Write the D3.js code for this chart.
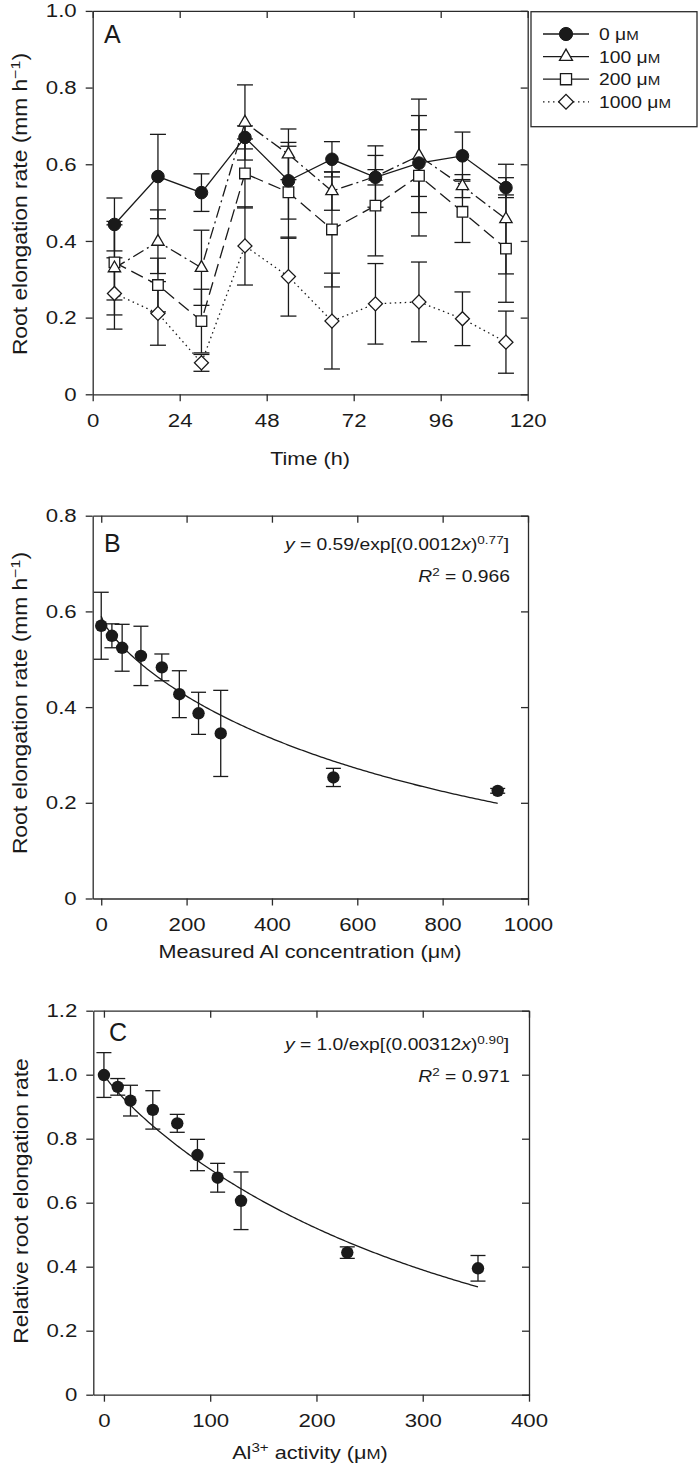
<!DOCTYPE html>
<html>
<head>
<meta charset="utf-8">
<script src="https://cdn.jsdelivr.net/npm/d3@7/dist/d3.min.js"></script>
<style>
  html, body { margin: 0; padding: 0; background: #fff; }
  svg { display: block; }
</style>
</head>
<body>
<svg id="chart" width="698" height="1466"></svg>
<script>
// ---------------- DATA ----------------
// Panel A: root elongation rate over time at four Al levels
const timeH = [6, 18, 30, 42, 54, 66, 78, 90, 102, 114];
const concLabels = ["0", "100", "200", "1000"];
const rate0    = [0.443, 0.568, 0.526, 0.670, 0.557, 0.613, 0.566, 0.603, 0.622, 0.539];
const err0     = [0.069, 0.110, 0.049, 0.030, 0.100, 0.046, 0.020, 0.087, 0.062, 0.026];
const rate100  = [0.329, 0.398, 0.330, 0.709, 0.626, 0.530, 0.568, 0.622, 0.543, 0.457];
const err100   = [0.122, 0.083, 0.098, 0.098, 0.066, 0.050, 0.080, 0.148, 0.030, 0.143];
const rate200  = [0.344, 0.285, 0.191, 0.576, 0.527, 0.430, 0.492, 0.570, 0.476, 0.380];
const err200   = [0.098, 0.070, 0.083, 0.090, 0.120, 0.150, 0.131, 0.157, 0.080, 0.140];
const rate1000 = [0.263, 0.211, 0.082, 0.387, 0.307, 0.191, 0.236, 0.241, 0.197, 0.136];
const err1000  = [0.093, 0.083, 0.022, 0.102, 0.103, 0.125, 0.105, 0.104, 0.070, 0.081];

// Panel B: rate vs measured Al concentration
const alConc = [0, 25, 49, 93, 142, 183, 228, 280, 544, 929];
const rateB  = [0.570, 0.549, 0.524, 0.507, 0.483, 0.427, 0.387, 0.345, 0.253, 0.225];
const errB   = [0.070, 0.025, 0.049, 0.062, 0.028, 0.049, 0.044, 0.090, 0.019, 0.005];
const fitB   = [0.59, 0.0012, 0.77];   // y = a / exp[(k x)^n]
const fitBMaxX = 929;

// Panel C: relative rate vs Al3+ activity
const al3Act = [0, 13, 25, 46, 69, 88, 107, 129, 229, 352];
const relRate = [0.999, 0.962, 0.919, 0.890, 0.848, 0.749, 0.678, 0.606, 0.444, 0.395];
const errC    = [0.070, 0.026, 0.048, 0.060, 0.028, 0.049, 0.045, 0.090, 0.018, 0.040];
const fitC    = [1.0, 0.00312, 0.90];
const fitCMaxX = 352;

// Tick values
const ticksAx = [0, 24, 48, 72, 96, 120];
const ticksAy = [0, 0.2, 0.4, 0.6, 0.8, 1.0];
const ticksBx = [0, 200, 400, 600, 800, 1000];
const ticksBy = [0, 0.2, 0.4, 0.6, 0.8];
const ticksCx = [0, 100, 200, 300, 400];
const ticksCy = [0, 0.2, 0.4, 0.6, 0.8, 1.0, 1.2];

// ---------------- STYLE ----------------
const FONT = "'Liberation Sans', Arial, Helvetica, sans-serif";
const SX = 1.17;          // horizontal glyph stretch
const INK = "#1a1a1a";
const AXIS = "#2b2b2b";

const svg = d3.select("#chart");

const yFmt = d => d === 0 ? "0" : d3.format(".1f")(d);
const xFmt = d => String(d);

function axes(g, x, y, xt, yt) {
  const [x0, x1] = x.range();
  const [y0, y1] = y.range();
  const b = g.append("g").attr("transform", `translate(0,${y0})`)
    .call(d3.axisBottom(x).tickValues(xt).tickSizeInner(7).tickSizeOuter(0).tickPadding(12).tickFormat(xFmt));
  g.append("g").attr("transform", `translate(0,${y1})`)
    .call(d3.axisTop(x).tickValues(xt).tickSizeInner(-7).tickSizeOuter(0).tickFormat(""));
  const l = g.append("g").attr("transform", `translate(${x0},0)`)
    .call(d3.axisLeft(y).tickValues(yt).tickSizeInner(7).tickSizeOuter(0).tickPadding(9).tickFormat(yFmt));
  g.append("g").attr("transform", `translate(${x1},0)`)
    .call(d3.axisRight(y).tickValues(yt).tickSizeInner(-7).tickSizeOuter(0).tickFormat(""));
  g.selectAll(".domain").attr("stroke", AXIS).attr("stroke-width", 1.3);
  g.selectAll(".tick line").attr("stroke", AXIS).attr("stroke-width", 1.3);
  g.selectAll(".tick text").attr("font-family", FONT).attr("font-size", 19).attr("fill", INK);
  b.selectAll(".tick text").attr("transform", `scale(${SX},1)`);
  l.selectAll(".tick text").each(function () {
    const t = d3.select(this);
    t.attr("x", +t.attr("x") / SX).attr("transform", `scale(${SX},1)`);
  });
}

function textAt(parent, x, y, size, anchor, rot) {
  return parent.append("text")
    .attr("transform", `translate(${x},${y})` + (rot ? ` rotate(${rot})` : "") + ` scale(${SX},1)`)
    .attr("font-family", FONT).attr("font-size", size).attr("fill", INK)
    .attr("text-anchor", anchor);
}

function umTail(t) {
  t.append("tspan").text("μ");
  t.append("tspan").attr("font-size", "0.78em").text("M");
}

function errorBars(g, xs, ys, es, x, y, cap) {
  const grp = g.append("g").attr("stroke", INK).attr("stroke-width", 1.3).attr("fill", "none");
  xs.forEach((xv, i) => {
    const cx = x(xv), yt = y(ys[i] + es[i]), yb = y(ys[i] - es[i]);
    grp.append("line").attr("x1", cx).attr("x2", cx).attr("y1", yt).attr("y2", yb);
    grp.append("line").attr("x1", cx - cap).attr("x2", cx + cap).attr("y1", yt).attr("y2", yt);
    grp.append("line").attr("x1", cx - cap).attr("x2", cx + cap).attr("y1", yb).attr("y2", yb);
  });
}

// ---------------- PANEL A ----------------
const xA = d3.scaleLinear().domain([0, 120]).range([92.7, 527.7]);
const yA = d3.scaleLinear().domain([0, 1]).range([394.3, 10.9]);
const gA = svg.append("g");

const seriesA = [
  { conc: concLabels[3], v: rate1000, e: err1000, dash: "1.5,3.5", sym: "diamond" },
  { conc: concLabels[2], v: rate200, e: err200, dash: "13,6", sym: "square" },
  { conc: concLabels[1], v: rate100, e: err100, dash: "12,4,2,4", sym: "triangle" },
  { conc: concLabels[0], v: rate0, e: err0, dash: null, sym: "circle" }
];

function marker(sel, sym, scale) {
  const s = scale || 1;
  if (sym === "circle") {
    sel.append("circle").attr("r", 6.3 * s).attr("fill", INK).attr("stroke", INK).attr("stroke-width", 1);
  } else if (sym === "triangle") {
    sel.append("path").attr("d", d3.symbol(d3.symbolTriangle, 66 * s * s)())
      .attr("fill", "#fff").attr("stroke", INK).attr("stroke-width", 1.3);
  } else if (sym === "square") {
    sel.append("path").attr("d", d3.symbol(d3.symbolSquare, 112 * s * s)())
      .attr("fill", "#fff").attr("stroke", INK).attr("stroke-width", 1.3);
  } else {
    sel.append("path").attr("d", d3.symbol(d3.symbolSquare, 98 * s * s)())
      .attr("transform", "rotate(45)")
      .attr("fill", "#fff").attr("stroke", INK).attr("stroke-width", 1.3);
  }
}

seriesA.forEach(s => errorBars(gA, timeH, s.v, s.e, xA, yA, 8));
const lineA = d3.line().x((d, i) => xA(timeH[i])).y(d => yA(d));
seriesA.forEach(s => {
  gA.append("path").attr("d", lineA(s.v)).attr("fill", "none").attr("stroke", INK)
    .attr("stroke-width", 1.3).attr("stroke-dasharray", s.dash);
});
seriesA.forEach(s => {
  s.v.forEach((v, i) => {
    const m = gA.append("g").attr("transform", `translate(${xA(timeH[i])},${yA(v)})`);
    marker(m, s.sym);
  });
});
axes(gA, xA, yA, ticksAx, ticksAy);

gA.append("text").attr("x", 104).attr("y", 43).attr("font-family", FONT)
  .attr("font-size", 25).attr("fill", INK).text("A");

textAt(gA, 310, 465, 18.5, "middle").text("Time (h)");
{
  const t = textAt(gA, 27, 204, 19.5, "middle", -90);
  t.append("tspan").text("Root elongation rate (mm h");
  t.append("tspan").attr("dy", -7).attr("font-size", "0.7em").text("−1");
  t.append("tspan").attr("dy", 7).text(")");
}

// Legend
const legG = svg.append("g");
legG.append("rect").attr("x", 531).attr("y", 11.7).attr("width", 166).attr("height", 115)
  .attr("fill", "#fff").attr("stroke", AXIS).attr("stroke-width", 1.3);
const legOrder = [
  { conc: concLabels[0], sym: "circle", dash: null },
  { conc: concLabels[1], sym: "triangle", dash: null },
  { conc: concLabels[2], sym: "square", dash: null },
  { conc: concLabels[3], sym: "diamond", dash: "1.5,3.5" }
];
legOrder.forEach((d, i) => {
  const yy = 34 + i * 22.6;
  legG.append("line").attr("x1", 543).attr("x2", 589).attr("y1", yy).attr("y2", yy)
    .attr("stroke", INK).attr("stroke-width", 1.3).attr("stroke-dasharray", d.dash);
  const m = legG.append("g").attr("transform", `translate(566,${yy})`);
  marker(m, d.sym, 1.05);
  const t = textAt(legG, 599, yy + 6, 16.5, "start");
  t.append("tspan").text(d.conc + " ");
  umTail(t);
});

// ---------------- PANEL B ----------------
const xB = d3.scaleLinear().domain([-20, 1000]).range([92.7, 528]);
const yB = d3.scaleLinear().domain([0, 0.8]).range([898.5, 515.7]);
const gB = svg.append("g");

const fitPtsB = d3.range(0, fitBMaxX + 0.01, fitBMaxX / 200);
gB.append("path")
  .attr("d", d3.line().x(d => xB(d)).y(d => yB(fitB[0] / Math.exp(Math.pow(fitB[1] * d, fitB[2]))))(fitPtsB))
  .attr("fill", "none").attr("stroke", INK).attr("stroke-width", 1.3);
errorBars(gB, alConc, rateB, errB, xB, yB, 7.5);
gB.selectAll("circle.pt").data(alConc).enter().append("circle")
  .attr("cx", d => xB(d)).attr("cy", (d, i) => yB(rateB[i])).attr("r", 6.2).attr("fill", INK);
axes(gB, xB, yB, ticksBx, ticksBy);

gB.append("text").attr("x", 104).attr("y", 552).attr("font-family", FONT)
  .attr("font-size", 25).attr("fill", INK).text("B");
{
  const t = textAt(gB, 509, 550, 16.5, "end");
  t.append("tspan").attr("font-style", "italic").text("y");
  t.append("tspan").text(" = 0.59/exp[(0.0012");
  t.append("tspan").attr("font-style", "italic").text("x");
  t.append("tspan").text(")");
  t.append("tspan").attr("dy", -6).attr("font-size", "0.7em").text("0.77");
  t.append("tspan").attr("dy", 6).text("]");
  const r = textAt(gB, 510, 582, 16.5, "end");
  r.append("tspan").attr("font-style", "italic").text("R");
  r.append("tspan").attr("dy", -6).attr("font-size", "0.7em").text("2");
  r.append("tspan").attr("dy", 6).text(" = 0.966");
}
{
  const t = textAt(gB, 310, 958, 18.5, "middle");
  t.append("tspan").text("Measured Al concentration (");
  umTail(t);
  t.append("tspan").text(")");
}
{
  const t = textAt(gB, 27, 703, 19.5, "middle", -90);
  t.append("tspan").text("Root elongation rate (mm h");
  t.append("tspan").attr("dy", -7).attr("font-size", "0.7em").text("−1");
  t.append("tspan").attr("dy", 7).text(")");
}

// ---------------- PANEL C ----------------
const xC = d3.scaleLinear().domain([-10, 400]).range([93.3, 529]);
const yC = d3.scaleLinear().domain([0, 1.2]).range([1394.7, 1010.7]);
const gC = svg.append("g");

const fitPtsC = d3.range(0, fitCMaxX + 0.01, fitCMaxX / 200);
gC.append("path")
  .attr("d", d3.line().x(d => xC(d)).y(d => yC(fitC[0] / Math.exp(Math.pow(fitC[1] * d, fitC[2]))))(fitPtsC))
  .attr("fill", "none").attr("stroke", INK).attr("stroke-width", 1.3);
errorBars(gC, al3Act, relRate, errC, xC, yC, 7.5);
gC.selectAll("circle.pt").data(al3Act).enter().append("circle")
  .attr("cx", d => xC(d)).attr("cy", (d, i) => yC(relRate[i])).attr("r", 6.2).attr("fill", INK);
axes(gC, xC, yC, ticksCx, ticksCy);

gC.append("text").attr("x", 109).attr("y", 1041).attr("font-family", FONT)
  .attr("font-size", 25).attr("fill", INK).text("C");
{
  const t = textAt(gC, 509, 1050, 16.5, "end");
  t.append("tspan").attr("font-style", "italic").text("y");
  t.append("tspan").text(" = 1.0/exp[(0.00312");
  t.append("tspan").attr("font-style", "italic").text("x");
  t.append("tspan").text(")");
  t.append("tspan").attr("dy", -6).attr("font-size", "0.7em").text("0.90");
  t.append("tspan").attr("dy", 6).text("]");
  const r = textAt(gC, 510, 1082, 16.5, "end");
  r.append("tspan").attr("font-style", "italic").text("R");
  r.append("tspan").attr("dy", -6).attr("font-size", "0.7em").text("2");
  r.append("tspan").attr("dy", 6).text(" = 0.971");
}
{
  const t = textAt(gC, 310, 1459, 18.5, "middle");
  t.append("tspan").text("Al");
  t.append("tspan").attr("dy", -7).attr("font-size", "0.7em").text("3+");
  t.append("tspan").attr("dy", 7).text(" activity (");
  umTail(t);
  t.append("tspan").text(")");
}
{
  const t = textAt(gC, 28, 1201, 19.5, "middle", -90);
  t.text("Relative root elongation rate");
}
</script>
</body>
</html>
